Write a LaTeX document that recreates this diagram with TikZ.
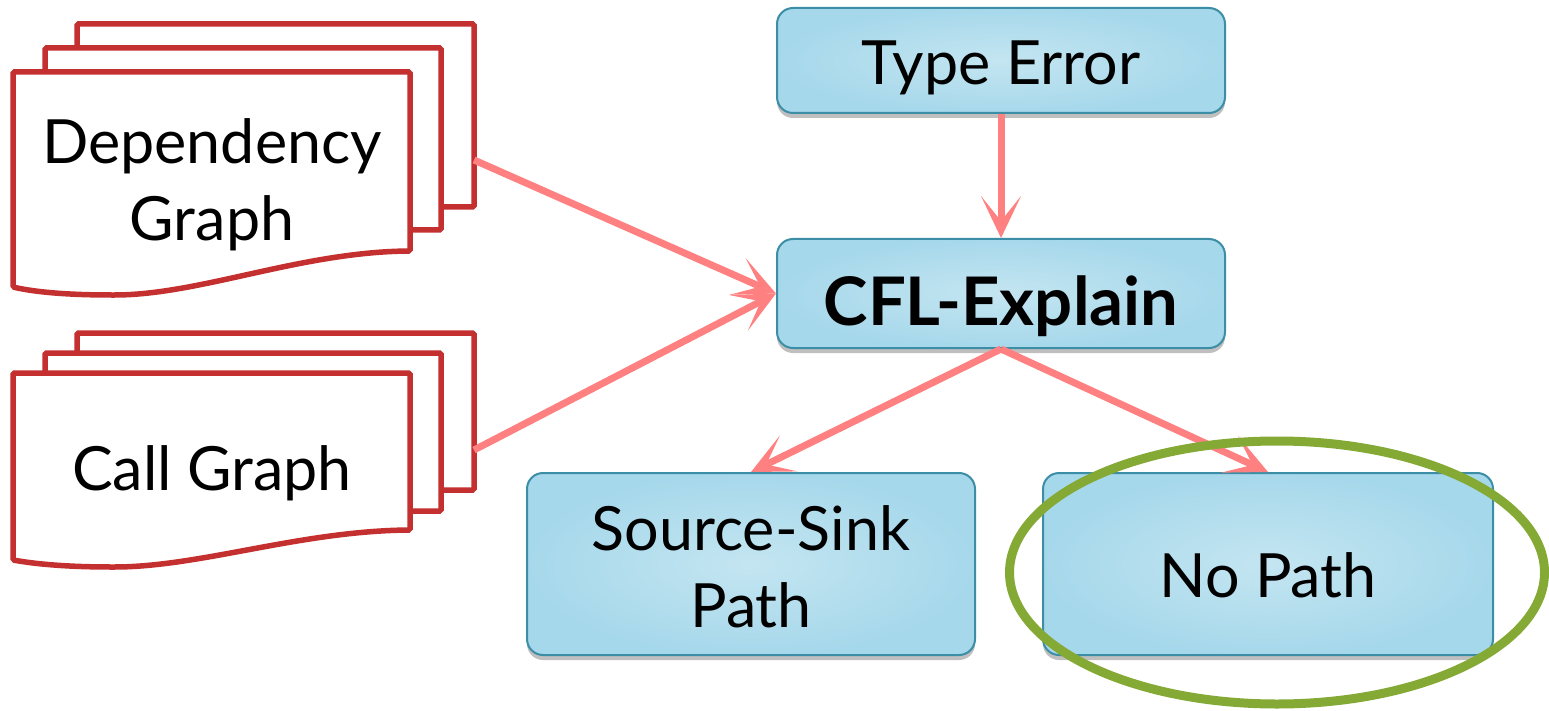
\documentclass[tikz,border=0pt]{standalone}
\usepackage{fontspec}
\setmainfont{Lato}
\usetikzlibrary{arrows.meta,shadows,shapes.geometric}

\definecolor{docred}{HTML}{C3302F}
\definecolor{linkred}{HTML}{FF8080}
\definecolor{boxedge}{HTML}{3B8EA5}
\definecolor{boxin}{HTML}{C4E5F1}
\definecolor{boxout}{HTML}{A6D8EB}
\definecolor{ringgreen}{HTML}{84A935}

\newcommand\diagfont{\fontsize{61}{77}\selectfont}
\newcommand\boldlabelfont{\fontsize{67}{77}\selectfont\bfseries}

\tikzset{
  procbox/.style={draw=boxedge, line width=2pt, rounded corners=16pt,
    inner color=boxin, outer color=boxout, align=center, font=\diagfont,
    text depth=0pt,
    drop shadow={shadow xshift=0pt, shadow yshift=-5pt, opacity=0.25, fill=black}},
  docsheet/.style={draw=docred, line width=5.5pt, fill=white, rounded corners=1.5pt},
  doctext/.style={align=center, font=\diagfont, text depth=0pt},
  link/.style={draw=linkred, line width=7pt,
    -{Stealth[length=42pt, width=40pt, inset=25pt]}},
  ring/.style={ellipse, draw=ringgreen, line width=9pt, inner sep=0pt}
}

\begin{document}
\begin{tikzpicture}[x=1pt, y=-1pt]
\useasboundingbox (0,0) rectangle (1549,711);

% stack of sheets: dependency graph
\draw[docsheet] (77,24) rectangle (474,207);
\draw[docsheet] (45,48) rectangle (441,230);
\draw[docsheet] (13,72) -- (410,72) -- (410,251)
  .. controls (300,252) and (200,295) .. (113,295)
  .. controls (60,295) and (30,291) .. (13,287) -- cycle;
\node[doctext, text height=121pt] (dep) at (212,180) {Dependency\\Graph};
\coordinate (depport) at (474,160);

% stack of sheets: call graph
\draw[docsheet] (77,333) rectangle (474,490);
\draw[docsheet] (45,353) rectangle (441,511);
\draw[docsheet] (13,373) -- (410,373) -- (410,530)
  .. controls (300,531) and (200,567) .. (113,567)
  .. controls (60,567) and (30,563) .. (13,560) -- cycle;
\node[doctext, text height=44pt] (call) at (212,468.5) {Call Graph};
\coordinate (callport) at (474,450);

% analysis boxes
\node[procbox, text height=48pt, minimum width=448pt, minimum height=105pt] (type) at (1001,60.5) {Type Error};
\node[procbox, font=\boldlabelfont, text height=63pt, minimum width=448pt, minimum height=109pt] (cfl) at (1001,293.5) {CFL-Explain};
\node[procbox, text height=127pt, minimum width=448pt, minimum height=182pt] (ssp) at (751,564) {Source-Sink\\Path};
\node[procbox, text height=66pt, minimum width=450pt, minimum height=182pt] (nop) at (1268,564) {No Path};

% connectors
\draw[link] (type.south) -- (cfl.north);
\draw[link] (depport) -- (cfl.west);
\draw[link] (callport) -- (cfl.west);
\draw[link] (cfl.south) -- (ssp.north);
\draw[link] (cfl.south) -- (nop.north);

% highlight ring
\node[ring, minimum width=535pt, minimum height=263pt] (hl) at (1277,572.5) {};
\end{tikzpicture}
\end{document}
